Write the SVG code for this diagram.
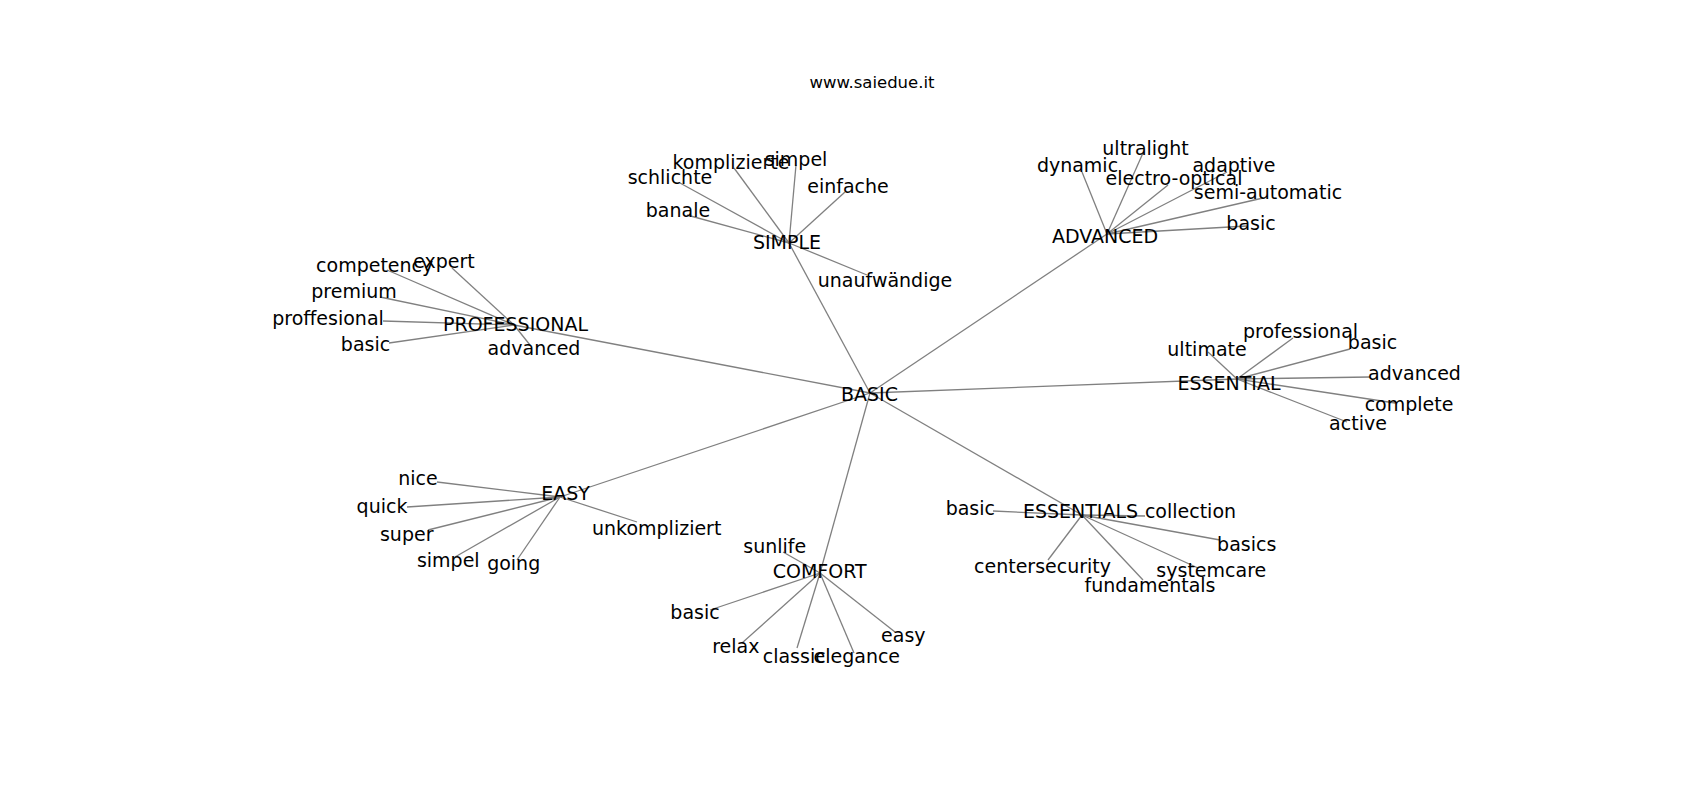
<svg xmlns="http://www.w3.org/2000/svg" width="1700" height="800" viewBox="0 0 1700 800">
<style>
text{font-family:"DejaVu Sans","Liberation Sans",sans-serif;fill:#000;text-anchor:middle}
.t{font-size:16.5px}
.n{font-size:19px}
#edges line{stroke:#808080;stroke-width:1.3}
</style>
<rect width="1700" height="800" fill="#fff"/>
<text class="t" x="872" y="88">www.saiedue.it</text>
<g id="edges">
<line x1="870" y1="393" x2="514" y2="325"/>
<line x1="870" y1="393" x2="789" y2="243"/>
<line x1="870" y1="393" x2="1107" y2="234"/>
<line x1="870" y1="393" x2="1237" y2="379"/>
<line x1="870" y1="393" x2="560" y2="497"/>
<line x1="870" y1="393" x2="820" y2="573"/>
<line x1="870" y1="393" x2="1082" y2="515"/>
<line x1="789" y1="243" x2="734" y2="168"/>
<line x1="789" y1="243" x2="796" y2="165"/>
<line x1="789" y1="243" x2="680" y2="183"/>
<line x1="789" y1="243" x2="687" y2="215"/>
<line x1="789" y1="243" x2="845" y2="192"/>
<line x1="789" y1="243" x2="867" y2="275"/>
<line x1="1107" y1="234" x2="1082" y2="172"/>
<line x1="1107" y1="234" x2="1143" y2="153"/>
<line x1="1107" y1="234" x2="1227" y2="172"/>
<line x1="1107" y1="234" x2="1168" y2="185"/>
<line x1="1107" y1="234" x2="1263" y2="198"/>
<line x1="1107" y1="234" x2="1247" y2="226"/>
<line x1="1237" y1="379" x2="1208" y2="352"/>
<line x1="1237" y1="379" x2="1293" y2="338"/>
<line x1="1237" y1="379" x2="1350" y2="349"/>
<line x1="1237" y1="379" x2="1370" y2="377"/>
<line x1="1237" y1="379" x2="1395" y2="403"/>
<line x1="1237" y1="379" x2="1347" y2="422"/>
<line x1="514" y1="325" x2="452" y2="268"/>
<line x1="514" y1="325" x2="387" y2="270"/>
<line x1="514" y1="325" x2="380" y2="297"/>
<line x1="514" y1="325" x2="383" y2="321"/>
<line x1="514" y1="325" x2="389" y2="343"/>
<line x1="514" y1="325" x2="530" y2="345"/>
<line x1="560" y1="497" x2="437" y2="482"/>
<line x1="560" y1="497" x2="407" y2="507"/>
<line x1="560" y1="497" x2="428" y2="530"/>
<line x1="560" y1="497" x2="455" y2="557"/>
<line x1="560" y1="497" x2="517" y2="560"/>
<line x1="560" y1="497" x2="637" y2="522"/>
<line x1="820" y1="573" x2="783" y2="552"/>
<line x1="820" y1="573" x2="710" y2="610"/>
<line x1="820" y1="573" x2="742" y2="643"/>
<line x1="820" y1="573" x2="797" y2="648"/>
<line x1="820" y1="573" x2="854" y2="653"/>
<line x1="820" y1="573" x2="895" y2="632"/>
<line x1="1082" y1="515" x2="993" y2="511"/>
<line x1="1082" y1="515" x2="1145" y2="516"/>
<line x1="1082" y1="515" x2="1220" y2="540"/>
<line x1="1082" y1="515" x2="1198" y2="568"/>
<line x1="1082" y1="515" x2="1143" y2="580"/>
<line x1="1082" y1="515" x2="1048" y2="560"/>
</g>
<g id="n-basic"><text class="n" x="869.5" y="400.7">BASIC</text></g>
<g id="n-professional"><text class="n" x="515.5" y="330.7">PROFESSIONAL</text></g>
<g id="n-simple"><text class="n" x="787" y="249">SIMPLE</text></g>
<g id="n-advanced"><text class="n" x="1105" y="243">ADVANCED</text></g>
<g id="n-essential"><text class="n" x="1229" y="390">ESSENTIAL</text></g>
<g id="n-easy"><text class="n" x="565.5" y="500">EASY</text></g>
<g id="n-comfort"><text class="n" x="819.7" y="578.3">COMFORT</text></g>
<g id="n-essentials"><text class="n" x="1080.5" y="518.3">ESSENTIALS</text></g>
<g id="n-komplizierte"><text class="n" x="731" y="169">komplizierte</text></g>
<g id="n-simpel-1"><text class="n" x="796" y="166">simpel</text></g>
<g id="n-schlichte"><text class="n" x="670" y="184">schlichte</text></g>
<g id="n-banale"><text class="n" x="678" y="217">banale</text></g>
<g id="n-einfache"><text class="n" x="848" y="193">einfache</text></g>
<g id="n-unaufwaendige"><text class="n" x="885" y="287">unaufwändige</text></g>
<g id="n-dynamic"><text class="n" x="1077.5" y="172">dynamic</text></g>
<g id="n-ultralight"><text class="n" x="1145.5" y="155">ultralight</text></g>
<g id="n-adaptive"><text class="n" x="1234" y="172">adaptive</text></g>
<g id="n-electro-optical"><text class="n" x="1174" y="185">electro-optical</text></g>
<g id="n-semi-automatic"><text class="n" x="1268" y="199">semi-automatic</text></g>
<g id="n-basic-adv"><text class="n" x="1251" y="230">basic</text></g>
<g id="n-ultimate"><text class="n" x="1207" y="356">ultimate</text></g>
<g id="n-professional-ess"><text class="n" x="1300.5" y="338">professional</text></g>
<g id="n-basic-ess"><text class="n" x="1372.5" y="349">basic</text></g>
<g id="n-advanced-ess"><text class="n" x="1414.5" y="380">advanced</text></g>
<g id="n-complete"><text class="n" x="1409" y="411">complete</text></g>
<g id="n-active"><text class="n" x="1358" y="430">active</text></g>
<g id="n-expert"><text class="n" x="444" y="268">expert</text></g>
<g id="n-competency"><text class="n" x="374.7" y="272">competency</text></g>
<g id="n-premium"><text class="n" x="354" y="298">premium</text></g>
<g id="n-proffesional"><text class="n" x="328" y="325">proffesional</text></g>
<g id="n-basic-prof"><text class="n" x="365.5" y="351">basic</text></g>
<g id="n-advanced-prof"><text class="n" x="534" y="355">advanced</text></g>
<g id="n-nice"><text class="n" x="418" y="485">nice</text></g>
<g id="n-quick"><text class="n" x="382" y="513">quick</text></g>
<g id="n-super"><text class="n" x="406.7" y="541">super</text></g>
<g id="n-simpel-2"><text class="n" x="448.3" y="567">simpel</text></g>
<g id="n-going"><text class="n" x="513.7" y="570">going</text></g>
<g id="n-unkompliziert"><text class="n" x="656.7" y="535">unkompliziert</text></g>
<g id="n-sunlife"><text class="n" x="774.7" y="553">sunlife</text></g>
<g id="n-basic-comf"><text class="n" x="695" y="619">basic</text></g>
<g id="n-relax"><text class="n" x="735.8" y="653">relax</text></g>
<g id="n-classic"><text class="n" x="794.2" y="663">classic</text></g>
<g id="n-elegance"><text class="n" x="856.8" y="663">elegance</text></g>
<g id="n-easy-comf"><text class="n" x="903.3" y="642">easy</text></g>
<g id="n-basic-esss"><text class="n" x="970.3" y="515">basic</text></g>
<g id="n-collection"><text class="n" x="1190.5" y="518">collection</text></g>
<g id="n-basics"><text class="n" x="1246.7" y="551">basics</text></g>
<g id="n-systemcare"><text class="n" x="1211.3" y="577">systemcare</text></g>
<g id="n-fundamentals"><text class="n" x="1150" y="592">fundamentals</text></g>
<g id="n-centersecurity"><text class="n" x="1042.5" y="573">centersecurity</text></g>
</svg>
